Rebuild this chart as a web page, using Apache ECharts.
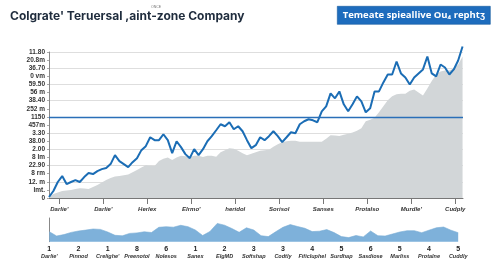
<!DOCTYPE html>
<html>
<head>
<meta charset="utf-8">
<script src="https://cdn.jsdelivr.net/npm/echarts@6/dist/echarts.min.js"></script>
<style>
  html, body { margin: 0; padding: 0; background: #fff; }
  #chart { width: 500px; height: 272px; }
</style>
</head>
<body>
<div id="chart"></div>
<script>
// main price line (one value per step)
const priceLine = [
  0.12, 0.86, 1.97, 2.70, 1.72, 1.97, 2.21, 1.97, 2.58, 3.07,
  2.95, 3.32, 3.56, 3.69, 4.18, 5.28, 4.55, 4.18, 3.81, 4.42,
  4.91, 5.90, 6.39, 7.49, 7.13, 7.13, 7.86, 7.13, 5.53, 7.00,
  6.27, 5.41, 4.91, 6.02, 5.28, 6.02, 7.00, 7.62, 8.35, 9.09,
  8.85, 9.34, 8.48, 8.85, 8.23, 7.13, 6.14, 6.51, 7.49, 7.13,
  7.62, 8.23, 7.62, 6.88, 7.49, 8.11, 7.99, 9.09, 9.46, 9.71,
  9.58, 9.34, 10.69, 11.30, 12.90, 12.29, 13.14, 11.55, 10.69, 11.55,
  12.53, 11.92, 10.57, 11.06, 13.14, 13.14, 14.25, 15.23, 15.23, 16.83,
  15.36, 14.86, 14.00, 14.86, 15.36, 15.85, 17.44, 15.36, 14.99, 16.46,
  16.09, 15.23, 15.85, 16.95, 18.67
];
// grey background area
const baseArea = [
  0.12, 0.49, 0.68, 0.86, 0.92, 0.98, 1.11, 1.19, 1.17, 1.11,
  1.35, 1.60, 1.90, 2.21, 2.46, 2.64, 2.70, 2.79, 2.89, 3.19,
  3.44, 3.75, 4.05, 3.99, 3.93, 4.55, 4.85, 4.98, 4.67, 4.98,
  5.22, 5.16, 5.04, 5.22, 5.22, 5.04, 5.22, 5.22, 5.10, 5.65,
  5.90, 6.14, 6.08, 5.84, 5.53, 5.28, 5.47, 5.65, 5.84, 5.90,
  5.96, 6.33, 6.63, 6.88, 7.00, 7.06, 7.06, 6.92, 6.92, 6.92,
  6.92, 6.92, 6.92, 7.31, 7.74, 7.70, 7.65, 7.80, 7.92, 8.07,
  8.29, 8.60, 9.46, 9.64, 9.89, 10.57, 11.30, 12.04, 12.53, 12.78,
  12.86, 12.86, 13.21, 13.39, 13.02, 12.65, 13.51, 14.43, 15.23, 15.60,
  15.72, 15.72, 15.97, 16.46, 17.44
];
const yLabels = ['0', 'lmt.', '12. m', '8 rm', '22.90', '8 lm', '2.00', '38.00', '3.30', '457m',
  '1150', '252 m', '38.40', '56 m', '59.50', '0 vm', '36.70', '20.8m', '11.80'];
const xLabels = ["Darlie'", "Darlie'", 'Herlex', "Elrmo'", 'heridol', 'Sorisol', 'Sanses', 'Protalso', "Murdle'", 'Cudply'];
const refLevel = 10;

// overview strip
const overview = [
  10, 5.7, 7.1, 9.3, 10.7, 11.6, 12.7, 12.3, 9.7, 6.4,
  5.9, 8.3, 8.8, 9.9, 9.2, 14.4, 15, 14.5, 16.4, 15,
  11.7, 6.2, 10.2, 18.3, 16.5, 13.2, 9.4, 13.9, 11.7, 6,
  5.1, 9.9, 14.4, 17.1, 15.2, 13.4, 10.1, 10.5, 12.1, 9.1,
  5.1, 4.1, 6.2, 4.8, 10.7, 6, 5.7, 7.7, 9.7, 11,
  11, 9, 11.5, 13.9, 14.7, 11.5, 9
];
const ovNumbers = ['1', '2', '1', '8', '6', '1', '2', '3', '3', '4', '5', '6', '5', '4', '5'];
const ovNames = ["Darlie'", 'Pinnod', "Crelighe'", 'Preenotol', 'Nolesos', 'Sanex', 'ElgMD', 'Softshap',
  'Codtly', 'Fificluphel', 'Surdhap', 'Sasdiose', 'Marliss', 'Protalne', 'Cuddly'];

const majorTicks = xLabels.map((_, i) => 2.34 + i * 10);
const minorTicks = [];
for (let v = 0.34; v < 94; v += 2) minorTicks.push(+v.toFixed(2));

const ovCats = overview.map((_, i) => (i % 4 === 0 ? String(i / 4) : ''));

const chart = echarts.init(document.getElementById('chart'), null, { renderer: 'canvas' });

chart.setOption({
  animation: false,
  backgroundColor: '#fff',
  graphic: [
    {
      type: 'text', left: 10, top: 10,
      style: { text: "Colgrate' Teruersal ,aint-zone Company", font: 'bold 12px Inter, sans-serif', fill: '#1f2c3d' }
    },
    {
      type: 'text', left: 151, top: 5,
      style: { text: 'ONCE', font: '3.5px sans-serif', fill: '#777' }
    },
    {
      type: 'group', left: 337, top: 6,
      children: [
        { type: 'rect', shape: { x: 0, y: 0, width: 153, height: 18 }, style: { fill: '#1d6cbd', stroke: '#155a9e', lineWidth: 0.6 } },
        {
          type: 'text', x: 76.5, y: 9,
          style: { text: 'Temeate spieallive Ou₄ rephtʒ', font: 'bold 9.5px "Open Sans", sans-serif', fill: '#fff', align: 'center', verticalAlign: 'middle' }
        }
      ]
    }
  ],
  grid: [
    { left: 49, right: 37, top: 52, bottom: 74 },
    { left: 49.3, right: 41.8, top: 218, bottom: 30.3 }
  ],
  xAxis: [
    {
      type: 'value', gridIndex: 0, min: 0, max: 94.1,
      axisLine: { show: true, lineStyle: { color: '#777', width: 1 } },
      axisTick: { show: true, length: 6, customValues: majorTicks, lineStyle: { color: '#777' } },
      axisLabel: {
        customValues: majorTicks, margin: 8,
        formatter: v => xLabels[Math.round((v - 2.34) / 10)] || '',
        fontSize: 6, fontStyle: 'italic', fontWeight: 'bold', color: '#333', fontFamily: 'Arial, sans-serif'
      },
      splitLine: { show: false }
    },
    {
      type: 'value', gridIndex: 0, min: 0, max: 94.1,
      axisLine: { show: false },
      axisTick: { show: true, length: 2, customValues: minorTicks, lineStyle: { color: '#999' } },
      axisLabel: { show: false },
      splitLine: { show: false }
    },
    {
      type: 'category', gridIndex: 1, data: ovCats, boundaryGap: false,
      axisLine: { show: false },
      axisTick: { show: false },
      axisLabel: {
        interval: 3, margin: 3,
        formatter: (v, i) => {
          const k = i / 4;
          return '{n|' + ovNumbers[k] + '}\n{m|' + ovNames[k] + '}';
        },
        rich: {
          n: { fontSize: 7, fontWeight: 'bold', color: '#222', lineHeight: 8, fontFamily: 'Arial, sans-serif' },
          m: { fontSize: 5.5, fontStyle: 'italic', fontWeight: 'bold', color: '#333', lineHeight: 8, fontFamily: 'Arial, sans-serif' }
        }
      }
    }
  ],
  yAxis: [
    {
      type: 'value', gridIndex: 0, min: 0, max: 18, interval: 1,
      axisLine: { show: true, lineStyle: { color: '#888' } },
      axisTick: { show: true, length: 2, lineStyle: { color: '#aaa' } },
      axisLabel: {
        formatter: v => yLabels[v] || '', margin: 4,
        fontSize: 6.5, fontWeight: 'bold', color: '#333', fontFamily: 'Arial, sans-serif'
      },
      splitLine: { show: false }
    },
    {
      type: 'value', gridIndex: 0, min: 0, max: 18, interval: 2,
      axisLine: { show: false }, axisTick: { show: false }, axisLabel: { show: false },
      splitLine: { show: true, lineStyle: { color: '#dedede', width: 1 } }
    },
    {
      type: 'value', gridIndex: 1, min: 0, max: 23.7,
      axisLine: { show: true, lineStyle: { color: '#888' } },
      axisTick: { show: false }, axisLabel: { show: false }, splitLine: { show: false }
    }
  ],
  series: [
    {
      type: 'line', xAxisIndex: 0, yAxisIndex: 0, z: 1,
      data: baseArea.map((v, i) => [i, v]),
      symbol: 'none',
      lineStyle: { width: 0 },
      areaStyle: { color: '#d2d6d8', opacity: 1 }
    },
    {
      type: 'line', xAxisIndex: 0, yAxisIndex: 0, z: 3, clip: false,
      data: priceLine.map((v, i) => [i, v]),
      symbol: 'none',
      lineStyle: { width: 2, color: '#1b6db5' },
      markLine: {
        silent: true, symbol: 'none', label: { show: false },
        lineStyle: { color: '#2a6fb8', width: 1.3, type: 'solid' },
        data: [{ yAxis: refLevel }]
      }
    },
    {
      type: 'line', xAxisIndex: 2, yAxisIndex: 2,
      data: overview,
      symbol: 'none',
      lineStyle: { width: 0.6, color: '#78acd5' },
      areaStyle: { color: '#7eb1da', opacity: 1 }
    }
  ]
});
</script>
</body>
</html>
